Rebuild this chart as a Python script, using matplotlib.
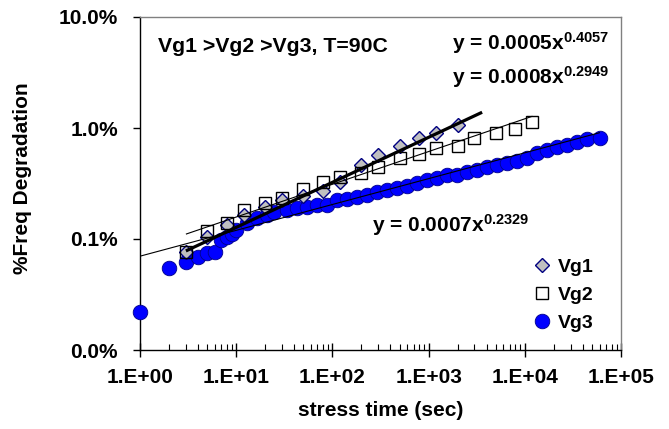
import numpy as np
import matplotlib
matplotlib.use("Agg")
import matplotlib.pyplot as plt
from matplotlib.ticker import FixedLocator, FuncFormatter, NullLocator, PercentFormatter
from matplotlib.lines import Line2D

plt.rcParams['font.family'] = ['Liberation Sans', 'DejaVu Sans']
plt.rcParams['font.weight'] = 'bold'
plt.rcParams['mathtext.fontset'] = 'custom'
plt.rcParams['mathtext.rm'] = 'Liberation Sans:bold'
plt.rcParams['mathtext.it'] = 'Liberation Sans:bold'
plt.rcParams['mathtext.bf'] = 'Liberation Sans:bold'

# ---- measured data (stress time in s, fractional frequency degradation) ----
vg1_t = [3, 5, 8, 12, 20, 30, 50, 80, 120, 200, 300, 500, 800, 1200, 2000]
vg1_d = [7.7e-4, 1.05e-3, 1.34e-3, 1.65e-3, 1.96e-3, 2.25e-3, 2.45e-3, 2.68e-3,
         3.29e-3, 4.66e-3, 5.73e-3, 6.91e-3, 8.11e-3, 8.99e-3, 1.07e-2]

vg2_t = [3, 5, 8, 12, 20, 30, 50, 80, 120, 200, 300, 500, 800, 1200, 2000,
         3000, 5000, 8000, 12000]
vg2_d = [7.65e-4, 1.17e-3, 1.39e-3, 1.83e-3, 2.10e-3, 2.33e-3, 2.81e-3, 3.23e-3,
         3.65e-3, 3.92e-3, 4.44e-3, 5.35e-3, 5.85e-3, 6.59e-3, 6.91e-3, 8.11e-3,
         8.99e-3, 9.84e-3, 1.13e-2]

vg3_t = [1, 2, 3, 4, 5, 6, 7, 8, 9, 10, 13, 16.5, 21, 25, 34, 43, 54, 69, 88,
         112, 142, 180, 229, 291, 370, 470, 596, 757, 962, 1222, 1553, 1973,
         2507, 3185, 4046, 5140, 6531, 8298, 10540, 13390, 17020, 21620, 27470,
         34900, 44340, 60500]
vg3_d = [2.2e-4, 5.5e-4, 6.2e-4, 6.9e-4, 7.5e-4, 7.6e-4, 9.8e-4, 1.045e-3,
         1.11e-3, 1.21e-3, 1.40e-3, 1.55e-3, 1.65e-3, 1.76e-3, 1.83e-3, 1.91e-3,
         1.95e-3, 2.03e-3, 2.03e-3, 2.25e-3, 2.30e-3, 2.40e-3, 2.50e-3, 2.66e-3,
         2.77e-3, 2.89e-3, 3.01e-3, 3.21e-3, 3.41e-3, 3.56e-3, 3.78e-3, 3.78e-3,
         4.03e-3, 4.20e-3, 4.47e-3, 4.66e-3, 4.86e-3, 5.06e-3, 5.38e-3, 5.97e-3,
         6.36e-3, 6.77e-3, 7.06e-3, 7.51e-3, 8.00e-3, 8.16e-3]

# power-law trendlines y = a * t^b and the time span each one covers
fit_a = {'Vg1': 0.0005, 'Vg2': 0.0008, 'Vg3': 0.0007}
fit_b = {'Vg1': 0.4057, 'Vg2': 0.2949, 'Vg3': 0.2329}
fit_span = {'Vg1': (3, 3600), 'Vg2': (3, 12000), 'Vg3': (1, 60500)}

x_ticks = [1, 10, 100, 1000, 10000, 100000]
y_ticks = [1e-4, 1e-3, 1e-2, 1e-1]

# marker styles shared by the plot and the legend
sty = {
    'Vg1': dict(marker='D', ms=6.8, mfc='#c0c0c0', mec='#000080', mew=1.0),
    'Vg2': dict(marker='s', ms=8.0, mfc='none', mec='black', mew=1.0),
    'Vg3': dict(marker='o', ms=10.5, mfc='#0000ff', mec='#00008b', mew=0.6),
}

W, H = 669, 429
fig = plt.figure(figsize=(W / 100, H / 100), dpi=100)
ax = fig.add_axes([140 / W, 1 - 350 / H, 481 / W, 333 / H])
ax.set_xscale('log')
ax.set_yscale('log')
ax.set_xlim(x_ticks[0], x_ticks[-1])
ax.set_ylim(y_ticks[0], y_ticks[-1])

# markers
ax.plot(vg3_t, vg3_d, ls='none', clip_on=False, zorder=3, **sty['Vg3'])
ax.plot(vg1_t, vg1_d, ls='none', zorder=4, **sty['Vg1'])
ax.plot(vg2_t, vg2_d, ls='none', zorder=5, **sty['Vg2'])

# trendlines
for name, lw in (('Vg1', 2.3), ('Vg2', 0.8), ('Vg3', 0.8)):
    t0, t1 = fit_span[name]
    tt = np.geomspace(t0, t1, 60)
    ax.plot(tt, fit_a[name] * tt ** fit_b[name], color='black', lw=lw,
            solid_capstyle='butt', zorder=6)

# axes styling
for side in ('left', 'bottom'):
    ax.spines[side].set_color('black')
    ax.spines[side].set_linewidth(1.0)
for side in ('top', 'right'):
    ax.spines[side].set_color('#808080')
    ax.spines[side].set_linewidth(1.0)

ax.xaxis.set_major_locator(FixedLocator(x_ticks))
ax.xaxis.set_minor_locator(FixedLocator(
    [m * d for d in x_ticks[:-1] for m in range(2, 10)]))
ax.xaxis.set_major_formatter(FuncFormatter(
    lambda v, p: "1.E+%02d" % int(round(np.log10(v)))))
ax.xaxis.set_minor_formatter(FuncFormatter(lambda v, p: ""))
ax.yaxis.set_major_locator(FixedLocator(y_ticks))
ax.yaxis.set_minor_locator(NullLocator())
ax.yaxis.set_major_formatter(PercentFormatter(xmax=1, decimals=1))

ax.tick_params(axis='x', which='major', direction='inout', length=10, width=1.0,
               pad=8, labelsize=15)
ax.tick_params(axis='x', which='minor', direction='in', length=4.5, width=0.8)
ax.tick_params(axis='y', which='major', direction='out', length=5, width=1.0,
               pad=11, labelsize=15)

# labels and annotations
fig.text(380.5 / W, 1 - 410 / H, 'stress time (sec)', ha='center', va='center',
         fontsize=15, fontweight='bold')
fig.text(22.5 / W, 1 - 178 / H, '%Freq Degradation', ha='center', va='center',
         rotation=90, fontsize=15, fontweight='bold')
fig.text(157.7 / W, 1 - 52.5 / H, 'Vg1 >Vg2 >Vg3, T=90C', ha='left',
         va='baseline', fontsize=15.3, fontweight='bold')

eq_pos = {'Vg1': (451.7, 50), 'Vg2': (451.7, 84), 'Vg3': (371.7, 232)}
for name, (px, py) in eq_pos.items():
    txt = "y = %gx$^{%.4f}$" % (fit_a[name], fit_b[name])
    fig.text(px / W, 1 - py / H, txt, ha='left', va='baseline', fontsize=15,
             fontweight='bold')

handles = []
for name in ('Vg1', 'Vg2', 'Vg3'):
    s = dict(sty[name])
    if s['mfc'] == 'none':
        s['mfc'] = 'white'
    handles.append(Line2D([], [], ls='none', **s))
leg = ax.legend(handles, ['Vg1', 'Vg2', 'Vg3'], loc='center left',
                bbox_to_anchor=((532 - 140) / 481, (350 - 295) / 333),
                frameon=False, fontsize=14, handlelength=1.0,
                handletextpad=0.32, labelspacing=0.52, borderpad=0,
                borderaxespad=0)
for t in leg.get_texts():
    t.set_fontweight('bold')

fig.savefig('out.png', dpi=100)
